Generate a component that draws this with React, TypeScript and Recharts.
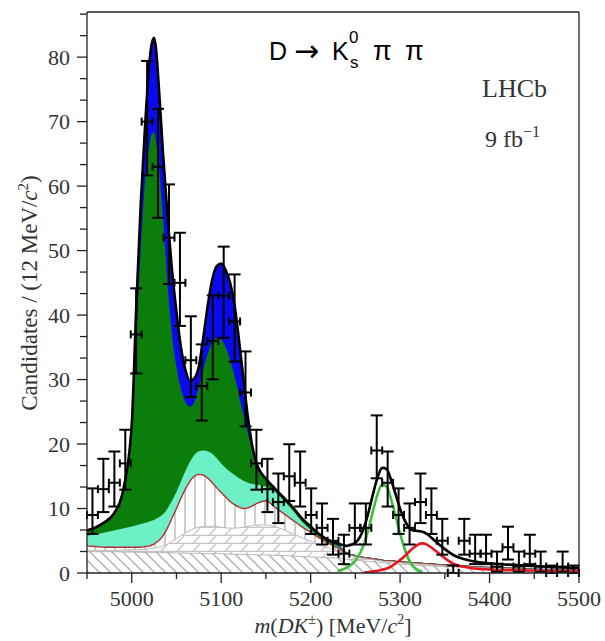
import React from "react";
import { ComposedChart, Area, Line, Scatter, ErrorBar, XAxis, YAxis, ReferenceLine } from "recharts";

// fit curves, sampled along m(DK) in MeV/c2
const CURVE_X = [
  4950, 4960, 4970, 4980, 4990,
  5000, 5005, 5010, 5015, 5020,
  5022, 5025, 5027, 5030, 5035,
  5040, 5045, 5050, 5055, 5060,
  5065, 5070, 5075, 5080, 5085,
  5090, 5095, 5100, 5105, 5110,
  5115, 5120, 5125, 5130, 5135,
  5140, 5150, 5160, 5170, 5180,
  5190, 5200, 5210, 5220, 5230,
  5240, 5250, 5260, 5265, 5270,
  5275, 5280, 5285, 5290, 5295,
  5300, 5305, 5310, 5315, 5320,
  5325, 5330, 5340, 5350, 5360,
  5370, 5380, 5400, 5420, 5440,
  5460, 5480, 5500,
];

// total fit (black line)
const TOTAL = [
  6.6, 7.1, 7.9, 9.2, 12.6,
  23, 41, 57, 69.5, 79.5,
  81.8, 83, 81.5, 76, 65,
  55.5, 47, 40.5, 35, 31.5,
  29.8, 30.2, 32, 36.5, 41.5,
  45.5, 47.6, 48, 47, 45,
  41.5, 36, 30, 24, 19.5,
  16.8, 14.6, 13.1, 11.7, 10.2,
  8.5, 7.2, 6.0, 5.1, 4.6,
  4.2, 4.7, 7.2, 9.6, 12.4,
  14.9, 16.3, 16.1, 14.4, 12.2,
  9.95, 8.2, 7.05, 6.6, 6.5,
  6.4, 6.05, 4.85, 3.7, 2.75,
  2.2, 1.85, 1.5, 1.3, 1.15,
  1.0, 0.85, 0.8,
];

// top of blue component
const BLUE = [
  6.6, 7.1, 7.9, 9.2, 12.6,
  23, 41, 57, 69.5, 79.5,
  81.8, 83, 81.5, 76, 65,
  55.5, 47, 40.5, 35, 31.5,
  29.8, 30.2, 32, 36.5, 41.5,
  45.5, 47.6, 48, 47, 45,
  41.5, 36, 30, 24, 19.5,
  16.8, 14.6, 13.1, 11.7, 10.2,
  8.5, 7.2, 6.0, 5.1, 4.6,
  3.2, 2.8, 2.5, 2.4, 2.3,
  2.2, 2.1, 2.0, 2.0, 1.9,
  1.85, 1.8, 1.75, 1.7, 1.65,
  1.6, 1.55, 1.45, 1.35, 1.25,
  1.2, 1.1, 0.95, 0.85, 0.75,
  0.65, 0.55, 0.5,
];

// top of dark green component
const GREEN = [
  6.4, 6.9, 7.7, 9.0, 12.3,
  22.5, 36, 50, 61, 66.5,
  68, 68.3, 67, 63.5, 55,
  45, 37, 32, 28.5, 26.5,
  25.8, 26.5, 28.8, 31.5, 34,
  35.8, 36.4, 36.2, 35, 33,
  30.5, 27.5, 24.5, 21.5, 18.8,
  16.6, 14.4, 12.9, 11.5, 10.0,
  8.3, 7.0, 5.8, 4.9, 4.4,
  3.2, 2.8, 2.5, 2.4, 2.3,
  2.2, 2.1, 2.0, 2.0, 1.9,
  1.85, 1.8, 1.75, 1.7, 1.65,
  1.6, 1.55, 1.45, 1.35, 1.25,
  1.2, 1.1, 0.95, 0.85, 0.75,
  0.65, 0.55, 0.5,
];

// top of aquamarine component
const AQUA = [
  5.8, 6.0, 6.3, 6.6, 6.9,
  7.2, 7.4, 7.6, 7.8, 8.0,
  8.1, 8.2, 8.4, 8.6, 9.1,
  10.0, 11.2, 12.6, 14.2, 15.8,
  17.2, 18.3, 18.9, 19.0, 18.9,
  18.5, 17.8, 17.0, 16.3, 15.7,
  15.2, 14.7, 14.3, 14.0, 13.8,
  13.7, 13.4, 12.6, 11.2, 9.7,
  8.0, 6.7, 5.5, 4.6, 4.1,
  3.1, 2.7, 2.4, 2.3, 2.2,
  2.1, 2.0, 1.9, 1.9, 1.8,
  1.75, 1.7, 1.65, 1.6, 1.55,
  1.5, 1.45, 1.35, 1.25, 1.15,
  1.1, 1.0, 0.85, 0.75, 0.65,
  0.55, 0.45, 0.4,
];

// top of vertically hatched component (dark red edge)
const VERT = [
  4.2, 4.1, 4.0, 4.0, 4.0,
  4.0, 4.0, 4.0, 4.1, 4.2,
  4.3, 4.5, 4.7, 5.0, 5.8,
  7.0, 8.5, 10.0, 11.6, 13.0,
  14.2, 15.0, 15.3, 15.2, 14.7,
  14.0, 13.2, 12.5, 11.8, 11.1,
  10.6, 10.2, 10.0, 10.1, 10.4,
  10.8, 11.2, 10.2, 9.2, 8.2,
  7.2, 6.3, 5.4, 4.6, 3.9,
  3.0, 2.6, 2.35, 2.25, 2.15,
  2.05, 1.95, 1.85, 1.85, 1.75,
  1.7, 1.65, 1.6, 1.55, 1.5,
  1.45, 1.4, 1.3, 1.2, 1.1,
  1.05, 0.95, 0.8, 0.7, 0.6,
  0.5, 0.45, 0.4,
];

// top of cross hatched component
const BRICK = [
  3.5, 3.5, 3.5, 3.5, 3.55,
  3.6, 3.6, 3.65, 3.7, 3.75,
  3.8, 3.85, 3.9, 4.0, 4.2,
  4.5, 4.9, 5.3, 5.8, 6.2,
  6.6, 6.9, 7.1, 7.2, 7.25,
  7.25, 7.2, 7.1, 7.0, 6.95,
  6.95, 7.0, 7.1, 7.25, 7.35,
  7.45, 7.45, 7.2, 6.7, 6.1,
  5.5, 4.9, 4.3, 3.9, 3.5,
  2.9, 2.5, 2.25, 2.15, 2.05,
  1.95, 1.85, 1.75, 1.75, 1.65,
  1.6, 1.55, 1.5, 1.45, 1.4,
  1.35, 1.3, 1.2, 1.1, 1.0,
  0.95, 0.88, 0.74, 0.64, 0.55,
  0.47, 0.42, 0.37,
];

// top of diagonally hatched component
const DIAG = [
  3.3, 3.3, 3.3, 3.3, 3.25,
  3.25, 3.25, 3.2, 3.2, 3.2,
  3.2, 3.2, 3.2, 3.2, 3.15,
  3.15, 3.15, 3.1, 3.1, 3.1,
  3.05, 3.05, 3.05, 3.0, 3.0,
  3.0, 3.0, 3.0, 2.95, 2.95,
  2.9, 2.9, 2.9, 2.85, 2.85,
  2.8, 2.8, 2.75, 2.7, 2.65,
  2.55, 2.5, 2.45, 2.4, 2.3,
  2.15, 2.0, 1.85, 1.8, 1.75,
  1.7, 1.6, 1.55, 1.5, 1.45,
  1.4, 1.35, 1.3, 1.25, 1.2,
  1.15, 1.1, 1.05, 1.0, 0.95,
  0.9, 0.85, 0.7, 0.6, 0.5,
  0.45, 0.4, 0.35,
];

// B -> D pi peak (light green line)
const DPI_PEAK = [
  null, null, null, null, null,
  null, null, null, null, null,
  null, null, null, null, null,
  null, null, null, null, null,
  null, null, null, null, null,
  null, null, null, null, null,
  null, null, null, null, null,
  null, null, null, null, null,
  null, null, null, null, 0.3,
  0.8, 1.9, 4.6, 7.0, 9.8,
  12.3, 13.7, 13.4, 11.4, 8.8,
  6.1, 3.8, 2.0, 1.0, 0.45,
  0.2, null, null, null, null,
  null, null, null, null, null,
  null, null, null,
];

// red peak
const RED_PEAK = [
  null, null, null, null, null,
  null, null, null, null, null,
  null, null, null, null, null,
  null, null, null, null, null,
  null, null, null, null, null,
  null, null, null, null, null,
  null, null, null, null, null,
  null, null, null, null, null,
  null, null, null, null, null,
  null, null, 0.1, 0.15, 0.25,
  0.35, 0.5, 0.7, 1.0, 1.5,
  2.0, 2.6, 3.3, 3.9, 4.4,
  4.6, 4.4, 3.4, 2.3, 1.4,
  1.0, 0.75, 0.55, 0.45, 0.4,
  0.35, 0.3, 0.3,
];

// data histogram
const BIN_CENTERS = [
  4956.1, 4968.3, 4980.6, 4992.8, 5005.0, 5017.2, 5029.4, 5041.7, 5053.9, 5066.1,
  5078.3, 5090.6, 5102.8, 5115.0, 5127.2, 5139.4, 5151.7, 5163.9, 5176.1, 5188.3,
  5200.6, 5212.8, 5225.0, 5237.2, 5249.4, 5261.7, 5273.9, 5286.1, 5298.3, 5310.6,
  5322.8, 5335.0, 5347.2, 5359.4, 5371.7, 5383.9, 5396.1, 5408.3, 5420.6, 5432.8,
  5445.0, 5457.2, 5469.4, 5481.7, 5493.9,
];
const COUNTS = [
  9, 13, 14, 17, 37, 70, 63, 52, 45, 33,
  29, 36, 43, 39, 28, 17, 13, 11, 15, 14,
  9, 7, 5, 3, 7, 7, 19, 14, 9, 7,
  11, 9, 5, 0, 5, 3, 3, 1, 4, 1,
  3, 1, 0, 1, 0,
];
const BIN_HALF_WIDTH = 6.1;

const X_TICKS = [4950, 5000, 5050, 5100, 5150, 5200, 5250, 5300, 5350, 5400, 5450, 5500];
const Y_TICKS = Array.from({ length: 27 }, (_, k) => (k * 10) / 3);

const SERIF = "'Liberation Serif', 'DejaVu Serif', serif";
const SANS = "'Liberation Sans', 'DejaVu Sans', sans-serif";

// asymmetric poisson interval, as the fit package draws it
function poissonErr(n: number): [number, number] {
  if (n === 0) return [0, 1.15];
  const up = n + Math.sqrt(n + 0.75) + 1;
  const lo = n * Math.pow(1 - 1 / (9 * n) - 1 / (3 * Math.sqrt(n)), 3);
  return [n - lo, up - n];
}

const curveData = CURVE_X.map((x, i) => ({
  x,
  total: TOTAL[i],
  blue: BLUE[i],
  green: GREEN[i],
  aqua: AQUA[i],
  vert: VERT[i],
  brick: BRICK[i],
  diag: DIAG[i],
  dpi: DPI_PEAK[i],
  red: RED_PEAK[i],
}));

const points = BIN_CENTERS.map((x, i) => ({
  x,
  y: COUNTS[i],
  ex: BIN_HALF_WIDTH,
  ey: poissonErr(COUNTS[i]),
}));

function XTick(props: any) {
  const { x, y, payload } = props;
  const v = payload.value;
  const major = v % 100 === 0;
  return (
    <g>
      <line x1={x} x2={x} y1={y} y2={y + (major ? 10 : 6)} stroke="#222" strokeWidth={1.3} />
      {major && (
        <text x={x} y={y + 33} textAnchor="middle" fontFamily={SERIF} fontSize={22} fill="#333">
          {v}
        </text>
      )}
    </g>
  );
}

function YTick(props: any) {
  const { x, y, payload } = props;
  const v = payload.value;
  const major = Math.abs(v / 10 - Math.round(v / 10)) < 1e-6;
  return (
    <g>
      <line x1={x - (major ? 10 : 7)} x2={x} y1={y} y2={y} stroke="#222" strokeWidth={1.3} />
      {major && (
        <text x={x - 17} y={y + 7.5} textAnchor="end" fontFamily={SERIF} fontSize={22} fill="#333">
          {Math.round(v)}
        </text>
      )}
    </g>
  );
}

export default function App() {
  return (
    <div style={{ position: "absolute", left: 0, top: 0, width: 605, height: 641, background: "#fff", overflow: "hidden" }}>
      <ComposedChart
        width={605}
        height={641}
        data={curveData}
        margin={{ top: 12, right: 26, bottom: 0, left: 0 }}
      >
        <defs>
          <pattern id="hDiag" patternUnits="userSpaceOnUse" width="11" height="11">
            <rect width="11" height="11" fill="#fff" />
            <path d="M0,0 L11,11 M-2,9 L2,13 M9,-2 L13,2" stroke="#b4b4b4" strokeWidth="1.5" />
          </pattern>
          <pattern id="hBrick" patternUnits="userSpaceOnUse" width="16" height="8">
            <rect width="16" height="8" fill="#fff" />
            <path d="M0,7.5 H16 M0,8 L8,0" stroke="#c6c6c6" strokeWidth="1.3" />
          </pattern>
          <pattern id="hVert" patternUnits="userSpaceOnUse" width="10" height="10">
            <rect width="10" height="10" fill="#fff" />
            <path d="M5,0 V10" stroke="#cdcdcd" strokeWidth="2" />
          </pattern>
        </defs>
        <XAxis
          dataKey="x"
          type="number"
          domain={[4950, 5500]}
          ticks={X_TICKS}
          interval={0}
          allowDataOverflow
          height={68}
          tickSize={0}
          tickMargin={0}
          tickLine={false}
          tick={<XTick />}
          axisLine={{ stroke: "#222", strokeWidth: 1.3 }}
        />
        <YAxis
          type="number"
          domain={[0, 87]}
          ticks={Y_TICKS}
          interval={0}
          allowDataOverflow
          width={87}
          tickSize={0}
          tickMargin={0}
          tickLine={false}
          tick={<YTick />}
          axisLine={{ stroke: "#222", strokeWidth: 1.3 }}
        />
        <ReferenceLine y={87} stroke="#222" strokeWidth={1.3} />
        <ReferenceLine x={5500} stroke="#222" strokeWidth={1.3} />

        <Area type="monotone" dataKey="blue" stroke="none" fill="#0a0af2" fillOpacity={1} isAnimationActive={false} />
        <Area type="monotone" dataKey="green" stroke="none" fill="#0a7d0a" fillOpacity={1} isAnimationActive={false} />
        <Area type="monotone" dataKey="aqua" stroke="none" fill="#6df0c6" fillOpacity={1} isAnimationActive={false} />
        <Area type="monotone" dataKey="vert" stroke="#b03030" strokeWidth={1.4} fill="url(#hVert)" fillOpacity={1} isAnimationActive={false} />
        <Area type="monotone" dataKey="brick" stroke="#bdbdbd" strokeWidth={1} fill="url(#hBrick)" fillOpacity={1} isAnimationActive={false} />
        <Area type="monotone" dataKey="diag" stroke="#b5b5b5" strokeWidth={1} fill="url(#hDiag)" fillOpacity={1} isAnimationActive={false} />

        <Line type="monotone" dataKey="dpi" stroke="#3cc03c" strokeWidth={2.6} dot={false} isAnimationActive={false} />
        <Line type="monotone" dataKey="red" stroke="#e8141e" strokeWidth={2.6} dot={false} isAnimationActive={false} />
        <Line type="monotone" dataKey="total" stroke="#000" strokeWidth={2.6} dot={false} isAnimationActive={false} />

        <Scatter data={points} dataKey="y" shape={() => <g />} isAnimationActive={false}>
          <ErrorBar dataKey="ey" direction="y" width={6} stroke="#000" strokeWidth={2} isAnimationActive={false} />
          <ErrorBar dataKey="ex" direction="x" width={4} stroke="#000" strokeWidth={2} isAnimationActive={false} />
        </Scatter>
      </ComposedChart>

      <svg width={605} height={641} style={{ position: "absolute", left: 0, top: 0, pointerEvents: "none" }}>
        <text x={269} y={60} fontFamily={SANS} fontSize={25} fill="#000">D</text>
        <text x={294} y={61} fontFamily="'DejaVu Sans', sans-serif" fontSize={30} fill="#000">→</text>
        <text x={332} y={60} fontFamily={SANS} fontSize={25} fill="#000">K</text>
        <text x={349} y={43} fontFamily={SANS} fontSize={17} fill="#000">0</text>
        <text x={350} y={68} fontFamily={SANS} fontSize={17} fill="#000">s</text>
        <text x={373} y={60} fontFamily={SANS} fontSize={27} fill="#000">π</text>
        <text x={405} y={60} fontFamily={SANS} fontSize={27} fill="#000">π</text>

        <text x={482} y={97} fontFamily={SERIF} fontSize={26} fill="#333">LHCb</text>
        <text x={485} y={147} fontFamily={SERIF} fontSize={24} fill="#333">
          9 fb<tspan dy={-10} fontSize={16}>−1</tspan>
        </text>

        <text transform="translate(37,293) rotate(-90)" textAnchor="middle" fontFamily={SERIF} fontSize={23} fill="#333">
          Candidates / (12 MeV/<tspan fontStyle="italic">c</tspan>
          <tspan dy={-9} fontSize={15}>2</tspan>
          <tspan dy={9}>)</tspan>
        </text>
        <text x={333} y={633} textAnchor="middle" fontFamily={SERIF} fontSize={22} fill="#333">
          <tspan fontStyle="italic">m</tspan>(<tspan fontStyle="italic">DK</tspan>
          <tspan dy={-9} fontSize={14}>±</tspan>
          <tspan dy={9}>) [MeV/</tspan>
          <tspan fontStyle="italic">c</tspan>
          <tspan dy={-9} fontSize={14}>2</tspan>
          <tspan dy={9}>]</tspan>
        </text>
      </svg>
    </div>
  );
}
